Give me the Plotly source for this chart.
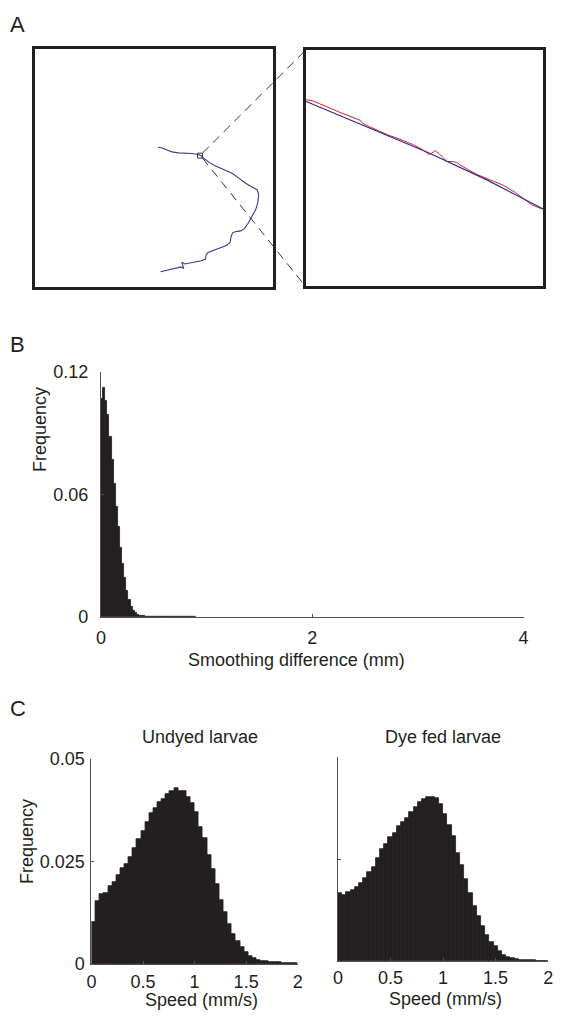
import numpy as np
import plotly.graph_objects as go

W, H = 563, 1024

# ---------------- Panel A data (arena units) ----------------
traj_x = [124.7, 129, 134, 139, 145.7, 152.3, 159, 165.7, 169, 172.3, 177.3, 184, 192.3, 200.7,
          207.3, 214, 220.7, 225.7, 227.3, 226.3, 224.3, 220.7, 216.7, 213, 209, 204, 200.7, 199,
          198.3, 195, 187.3, 180.7, 175.7, 173.7, 173, 169, 160.7, 152.3, 149, 151, 148.3, 142.3,
          135.7, 127.3]
traj_y = [143, 142.3, 140.3, 138.3, 137.3, 137, 136.7, 135.6, 134.2, 131, 127.3, 123.7, 120.3, 116.3,
          111.3, 106.3, 102.3, 99.7, 94.7, 86.3, 79.7, 72.3, 65.7, 60.3, 57.7, 57, 55.7, 51.3,
          46.3, 43, 40.3, 38, 35.7, 33, 29, 27.3, 25.7, 24, 25.7, 19.3, 21, 19.7, 18, 16]
square_x = [165, 170]
square_y = [132, 137]

# zoomed window (same arena units, inside the square)
smooth_x = [165.0, 166.281, 167.562, 168.802, 170.0]
smooth_y = [135.921, 135.382, 134.842, 134.261, 133.639]
raw_x = [165.010, 165.145, 165.702, 166.151, 166.198, 166.322, 166.735, 166.942, 167.273, 167.459,
         167.603, 167.727, 167.810, 167.975, 168.078, 168.182, 168.264, 168.595, 168.946, 169.153,
         169.421, 169.690, 169.772, 169.979]
raw_y = [135.952, 135.932, 135.693, 135.517, 135.454, 135.392, 135.205, 135.133, 134.998, 134.894,
         134.790, 134.873, 134.811, 134.645, 134.645, 134.624, 134.562, 134.375, 134.230, 134.147,
         133.981, 133.795, 133.722, 133.639]

# ---------------- Panel B data ----------------
smooth_bin = 0.02
smooth_freq = [0.107, 0.112, 0.106, 0.099, 0.088, 0.077, 0.065, 0.054, 0.044, 0.034,
               0.026, 0.019, 0.013, 0.0085, 0.0052, 0.003, 0.0018, 0.0011, 0.0007, 0.0005,
               0.0004, 0.0003, 0.0003, 0.00025, 0.0002, 0.0002, 0.00015, 0.00015, 0.00012, 0.0001,
               0.0001, 0.0001, 0.0001, 0.00008, 0.00008, 0.00006, 0.00006, 0.00005, 0.00005, 0.00004,
               0.00004, 0.00003, 0.00003, 0.00003, 0.00002]
b_xticks = [0, 2, 4]
b_yticks = [0, 0.06, 0.12]
b_yticktext = ["0", "0.06", "0.12"]

# ---------------- Panel C data ----------------
speed_bin = 0.04
undyed_freq = [0.01013, 0.01531, 0.01699, 0.01722, 0.01906, 0.02002, 0.02161, 0.02329, 0.02440, 0.02616,
               0.02839, 0.03046, 0.03246, 0.03461, 0.03676, 0.03812, 0.03955, 0.04035, 0.04155, 0.04226,
               0.04298, 0.04226, 0.04220, 0.04075, 0.03923, 0.03700, 0.03341, 0.03078, 0.02663, 0.02305,
               0.01946, 0.01563, 0.01268, 0.00973, 0.00734, 0.00550, 0.00407, 0.00295, 0.00191, 0.00136,
               0.00096, 0.00080, 0.00064, 0.00056, 0.00048, 0.00040, 0.00032, 0.00032, 0.00024, 0.00024]
dyefed_freq = [0.01664, 0.01615, 0.01688, 0.01737, 0.01810, 0.01907, 0.02029, 0.02175, 0.02313, 0.02532,
               0.02744, 0.02865, 0.03028, 0.03149, 0.03304, 0.03401, 0.03515, 0.03653, 0.03774, 0.03904,
               0.03977, 0.04010, 0.04018, 0.04002, 0.03856, 0.03612, 0.03328, 0.03060, 0.02654, 0.02354,
               0.02005, 0.01664, 0.01339, 0.01096, 0.00852, 0.00625, 0.00471, 0.00357, 0.00244, 0.00154,
               0.00097, 0.00065, 0.00041, 0.00032, 0.00024, 0.00016, 0.00012, 0.00010, 0.00008, 0.00008]
c_xticks = [0, 0.5, 1, 1.5, 2]
c_xticktext = ["0", "0.5", "1", "1.5", "2"]
c_yticks = [0, 0.025, 0.05]
c_yticktext = ["0", "0.025", "0.05"]

# ---------------- styling ----------------
FONT = "Liberation Sans, Arial, sans-serif"
TXT = "#231f20"
BAR = "#231f20"
AXC = "#505050"
FS = 18


def px(x):
    return x / W


def py(y):
    return 1 - y / H


# axis domains (paper)
A1x, A1y = [px(31), px(273)], [py(283), py(40)]
A2x, A2y = [px(306), px(548)], [py(282), py(41)]
Bx, By = [px(97.7), px(528)], [py(619), py(369)]
C1x, C1y = [px(88), px(298)], [py(973), py(764)]
C2x, C2y = [px(339), px(553)], [py(970), py(762)]

fig = go.Figure()

# Panel A traces
fig.add_trace(go.Scatter(x=traj_x, y=traj_y, mode="lines", line=dict(color="#3a3a8e", width=1.1),
                         xaxis="x", yaxis="y", hoverinfo="skip"))
sqx = [square_x[0], square_x[1], square_x[1], square_x[0], square_x[0]]
sqy = [square_y[0], square_y[0], square_y[1], square_y[1], square_y[0]]
fig.add_trace(go.Scatter(x=sqx, y=sqy, mode="lines", line=dict(color="#333333", width=1),
                         xaxis="x", yaxis="y", hoverinfo="skip"))
fig.add_trace(go.Scatter(x=raw_x, y=raw_y, mode="lines", line=dict(color="#d8203a", width=1),
                         xaxis="x2", yaxis="y2", hoverinfo="skip"))
fig.add_trace(go.Scatter(x=smooth_x, y=smooth_y, mode="lines", line=dict(color="#2e2e8a", width=1.2),
                         xaxis="x2", yaxis="y2", hoverinfo="skip"))

# Panel B
bx = np.arange(len(smooth_freq)) * smooth_bin + smooth_bin / 2
fig.add_trace(go.Bar(x=bx, y=smooth_freq, width=smooth_bin,
                     marker=dict(color=BAR, line=dict(color=BAR, width=0.8)),
                     xaxis="x3", yaxis="y3"))

# Panel C
cx = np.arange(len(undyed_freq)) * speed_bin + speed_bin / 2
fig.add_trace(go.Bar(x=cx, y=undyed_freq, width=speed_bin,
                     marker=dict(color=BAR, line=dict(color=BAR, width=0.8)),
                     xaxis="x4", yaxis="y4"))
cx2 = np.arange(len(dyefed_freq)) * speed_bin + speed_bin / 2
fig.add_trace(go.Bar(x=cx2, y=dyefed_freq, width=speed_bin,
                     marker=dict(color=BAR, line=dict(color=BAR, width=0.8)),
                     xaxis="x5", yaxis="y5"))


def box_axis(domain, rng, anchor):
    return dict(domain=domain, range=rng, anchor=anchor, showline=True, mirror=True,
                linecolor="#231f20", linewidth=2.5, showgrid=False, zeroline=False,
                showticklabels=False, ticks="", fixedrange=True)


def hist_axis(domain, rng, anchor, tickvals, ticktext=None, labels=True, standoff=4):
    d = dict(domain=domain, range=rng, anchor=anchor, showline=True, linecolor=AXC, linewidth=1,
             ticks="inside", ticklen=3, tickcolor=AXC, tickwidth=1, tickvals=tickvals,
             showgrid=False, zeroline=False, fixedrange=True, showticklabels=labels,
             tickfont=dict(family=FONT, size=FS, color=TXT), ticklabelstandoff=standoff)
    if ticktext is not None:
        d["ticktext"] = ticktext
    return d


# connector line endpoints in paper coordinates, from the square's data corners
def a1_to_paper(x, y):
    xr, yr = [0, 242], [0, 243]
    X = A1x[0] + (x - xr[0]) / (xr[1] - xr[0]) * (A1x[1] - A1x[0])
    Y = A1y[0] + (y - yr[0]) / (yr[1] - yr[0]) * (A1y[1] - A1y[0])
    return X, Y


tr = a1_to_paper(square_x[1], square_y[1])
br = a1_to_paper(square_x[1], square_y[0])
shapes = [
    dict(type="line", xref="paper", yref="paper", x0=tr[0], y0=tr[1], x1=A2x[0], y1=A2y[1],
         line=dict(color="#333333", width=1, dash="9px,6px")),
    dict(type="line", xref="paper", yref="paper", x0=br[0], y0=br[1], x1=A2x[0], y1=A2y[0],
         line=dict(color="#333333", width=1, dash="9px,6px")),
]


def ann(text, x, y, size=FS, angle=0):
    return dict(text=text, x=px(x), y=py(y), xref="paper", yref="paper", showarrow=False,
                xanchor="center", yanchor="middle", textangle=angle,
                font=dict(family=FONT, size=size, color=TXT))


annotations = [
    ann("A", 13, 15, 22), ann("B", 13, 341, 22), ann("C", 13, 712, 22),
    ann("Frequency", 35, 428, FS, -90),
    ann("Smoothing difference (mm)", 297, 663),
    ann("Undyed larvae", 199, 741), ann("Dye fed larvae", 446, 741),
    ann("Frequency", 23, 848, FS, -90),
    ann("Speed (mm/s)", 200, 1010), ann("Speed (mm/s)", 448, 1009),
]

fig.update_layout(
    width=W, height=H, autosize=False,
    margin=dict(l=0, r=0, t=0, b=0),
    paper_bgcolor="white", plot_bgcolor="white",
    showlegend=False, bargap=0,
    font=dict(family=FONT, size=FS, color=TXT),
    xaxis=box_axis(A1x, [0, 242], "y"), yaxis=box_axis(A1y, [0, 243], "x"),
    xaxis2=box_axis(A2x, [square_x[0], square_x[1]], "y2"),
    yaxis2=box_axis(A2y, [square_y[0], square_y[1]], "x2"),
    xaxis3=hist_axis(Bx, [0, 4], "y3", b_xticks, standoff=4),
    yaxis3=hist_axis(By, [0, 0.12], "x3", b_yticks, b_yticktext, standoff=8),
    xaxis4=hist_axis(C1x, [0, 2], "y4", c_xticks, c_xticktext, standoff=1),
    yaxis4=hist_axis(C1y, [0, 0.05], "x4", c_yticks, c_yticktext, standoff=2),
    xaxis5=hist_axis(C2x, [0, 2], "y5", c_xticks, c_xticktext, standoff=0),
    yaxis5=hist_axis(C2y, [0, 0.05], "x5", c_yticks, labels=False),
    shapes=shapes, annotations=annotations,
)

fig.write_html(
    "out.html",
    config={"displayModeBar": False},
    post_script="document.body.style.margin='0';document.body.style.padding='0';"
                "document.documentElement.style.overflow='hidden';",
)
